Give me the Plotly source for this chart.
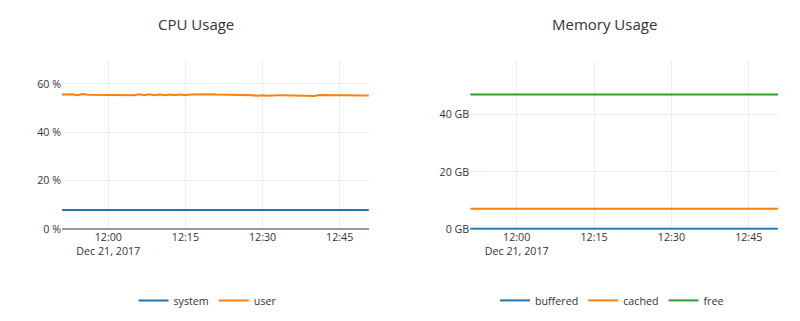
import plotly.graph_objects as go
import pandas as pd

# ---- data ----
times = pd.date_range("2017-12-21 11:51:00", "2017-12-21 12:51:00", freq="1min")

cpu_user = [55.6, 55.6, 55.7, 55.3, 55.8, 55.5, 55.5, 55.5, 55.5, 55.5,
            55.5, 55.5, 55.5, 55.6, 55.3, 55.7, 55.3, 55.7, 55.3, 55.6,
            55.3, 55.6, 55.4, 55.6, 55.3, 55.6, 55.7, 55.7, 55.7, 55.7,
            55.6, 55.6, 55.6, 55.6, 55.6, 55.6, 55.5, 55.3, 55.1, 55.3,
            55.1, 55.3, 55.3, 55.3, 55.3, 55.3, 55.3, 55.3, 55.3, 55.0,
            55.4, 55.3, 55.3, 55.2, 55.3, 55.3, 55.2, 55.2, 55.2, 55.2,
            55.2]
cpu_system = [7.9] * len(times)

mem_buffered = [0.1] * len(times)
mem_cached = [7.1] * len(times)
mem_free = [47.0] * len(times)

x_range = ["2017-12-21 11:51:00", "2017-12-21 12:50:40"]
cpu_range = [0, 69.5]
mem_range = [0, 58.7]

blue, orange, green = "#1f77b4", "#ff7f0e", "#2ca02c"
FS = 10.7
TXT = "#333"

fig = go.Figure()
fig.add_trace(go.Scatter(x=times, y=cpu_system, name="system", mode="lines",
                         line=dict(color=blue, width=2), xaxis="x", yaxis="y", legend="legend"))
fig.add_trace(go.Scatter(x=times, y=cpu_user, name="user", mode="lines",
                         line=dict(color=orange, width=2), xaxis="x", yaxis="y", legend="legend"))
fig.add_trace(go.Scatter(x=times, y=mem_buffered, name="buffered", mode="lines",
                         line=dict(color=blue, width=2), xaxis="x2", yaxis="y2", legend="legend2"))
fig.add_trace(go.Scatter(x=times, y=mem_cached, name="cached", mode="lines",
                         line=dict(color=orange, width=2), xaxis="x2", yaxis="y2", legend="legend2"))
fig.add_trace(go.Scatter(x=times, y=mem_free, name="free", mode="lines",
                         line=dict(color=green, width=2), xaxis="x2", yaxis="y2", legend="legend2"))

xcommon = dict(type="date", range=x_range, tick0="2017-12-21 12:00:00", dtick=15 * 60 * 1000,
               showgrid=True, gridcolor="#eee", gridwidth=1, zeroline=False, showline=False,
               ticks="", tickfont=dict(size=FS, color=TXT))
ycommon = dict(showgrid=True, gridcolor="#eee", gridwidth=1, zeroline=True,
               zerolinecolor="#999", zerolinewidth=1.5, showline=False, ticks="",
               tickfont=dict(size=FS, color=TXT))

fig.update_layout(
    width=800, height=321,
    margin=dict(l=0, r=0, t=61, b=92),
    paper_bgcolor="white", plot_bgcolor="white",
    font=dict(family="Open Sans, sans-serif", color=TXT, size=FS),
    template="none",
    xaxis=dict(domain=[0.0775, 0.461], anchor="y", **xcommon),
    yaxis=dict(domain=[0, 1], anchor="x", range=cpu_range, ticksuffix=" %", dtick=20, **ycommon),
    xaxis2=dict(domain=[0.5878, 0.9725], anchor="y2", **xcommon),
    yaxis2=dict(domain=[0, 1], anchor="x2", range=mem_range, ticksuffix=" GB", dtick=20, **ycommon),
    legend=dict(orientation="h", x=0.26, xanchor="center", y=-0.425, yanchor="middle",
                font=dict(size=FS, color=TXT), bgcolor="rgba(0,0,0,0)"),
    legend2=dict(orientation="h", x=0.765, xanchor="center", y=-0.425, yanchor="middle",
                 font=dict(size=FS, color=TXT), bgcolor="rgba(0,0,0,0)"),
    annotations=[
        dict(text="CPU Usage", x=0.2444, y=1.22, xref="paper", yref="paper", xanchor="center",
             showarrow=False, font=dict(size=15, color=TXT), yanchor="middle"),
        dict(text="Memory Usage", x=0.755, y=1.22, xref="paper", yref="paper", xanchor="center",
             showarrow=False, font=dict(size=15, color=TXT), yanchor="middle"),
    ],
    showlegend=True,
)

fig.write_html("out.html")
